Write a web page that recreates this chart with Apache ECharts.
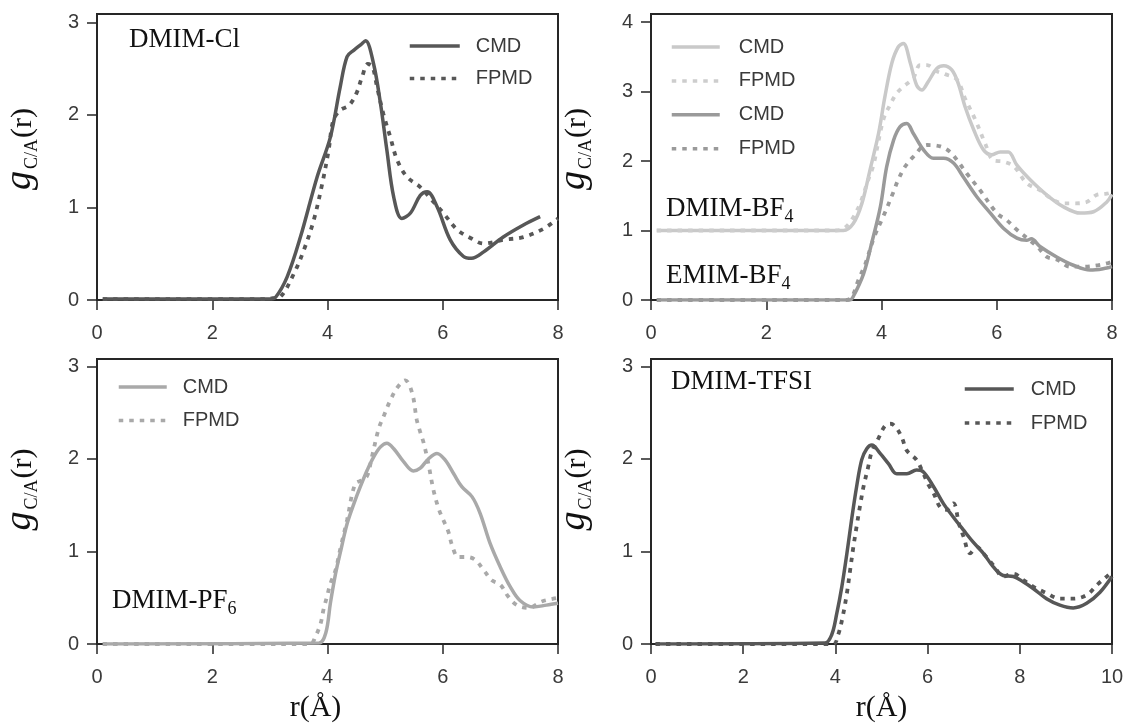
<!DOCTYPE html>
<html>
<head>
<meta charset="utf-8">
<script src="https://cdn.jsdelivr.net/npm/echarts@6/dist/echarts.min.js"></script>
<style>
html,body{margin:0;padding:0;background:#fff;}
#chart{width:1128px;height:727px;}
</style>
</head>
<body>
<div id="chart"></div>
<script>
// ---------- data ----------
const yTicks3 = [0, 1, 2, 3];
const yTicks4 = [0, 1, 2, 3, 4];
const xTicks8 = [0, 2, 4, 6, 8];
const xTicks10 = [0, 2, 4, 6, 8, 10];

// Panel 1: DMIM-Cl
const p1CmdR = [0.1, 3.0, 3.1, 3.3, 3.53, 3.82, 4.05, 4.22, 4.34, 4.46, 4.58, 4.66, 4.80, 4.92, 5.03, 5.15, 5.29, 5.44, 5.61, 5.73, 5.90, 6.13, 6.36, 6.50, 6.71, 7.05, 7.40, 7.69];
const p1CmdG = [0.01, 0.01, 0.03, 0.25, 0.68, 1.33, 1.76, 2.30, 2.63, 2.70, 2.76, 2.80, 2.55, 2.12, 1.62, 1.11, 0.88, 0.94, 1.13, 1.17, 1.01, 0.65, 0.47, 0.45, 0.52, 0.68, 0.81, 0.90];
const p1FpR = [0.1, 2.95, 3.05, 3.19, 3.42, 3.59, 3.76, 3.91, 4.02, 4.10, 4.22, 4.37, 4.50, 4.60, 4.70, 4.78, 4.86, 4.97, 5.09, 5.21, 5.38, 5.61, 5.81, 6.01, 6.25, 6.48, 6.71, 7.05, 7.40, 7.75, 8.0];
const p1FpG = [0.01, 0.01, 0.02, 0.04, 0.29, 0.54, 0.86, 1.26, 1.62, 1.94, 2.05, 2.10, 2.23, 2.41, 2.55, 2.52, 2.30, 2.01, 1.76, 1.51, 1.33, 1.22, 1.08, 0.94, 0.76, 0.67, 0.61, 0.65, 0.68, 0.77, 0.88];

// Panel 2: DMIM-BF4 (shifted by +1) and EMIM-BF4
const p2DCmdR = [0.1, 3.34, 3.51, 3.66, 3.80, 3.95, 4.06, 4.18, 4.29, 4.38, 4.50, 4.61, 4.70, 4.81, 4.96, 5.08, 5.22, 5.33, 5.45, 5.60, 5.77, 5.91, 6.06, 6.20, 6.35, 6.58, 6.87, 7.16, 7.45, 7.68, 7.91, 8.0];
const p2DCmdG = [1.0, 1.0, 1.10, 1.39, 1.87, 2.40, 2.93, 3.41, 3.64, 3.69, 3.41, 3.09, 3.02, 3.14, 3.33, 3.37, 3.31, 3.12, 2.78, 2.45, 2.16, 2.09, 2.13, 2.13, 1.94, 1.73, 1.51, 1.34, 1.25, 1.27, 1.41, 1.52];
const p2DFpR = [0.1, 3.2, 3.35, 3.48, 3.63, 3.77, 3.86, 4.03, 4.15, 4.26, 4.38, 4.55, 4.67, 4.79, 4.96, 5.10, 5.31, 5.45, 5.63, 5.80, 5.94, 6.12, 6.30, 6.52, 6.75, 6.98, 7.16, 7.33, 7.56, 7.73, 7.91, 8.0];
const p2DFpG = [1.0, 1.0, 1.03, 1.15, 1.39, 1.73, 1.94, 2.59, 2.81, 2.97, 3.07, 3.19, 3.38, 3.38, 3.29, 3.25, 3.17, 2.90, 2.59, 2.25, 2.01, 1.99, 1.92, 1.68, 1.58, 1.44, 1.39, 1.39, 1.41, 1.51, 1.53, 1.55];
const p2ECmdR = [0.1, 3.45, 3.51, 3.69, 3.83, 3.98, 4.09, 4.21, 4.32, 4.44, 4.55, 4.73, 4.90, 5.08, 5.25, 5.42, 5.65, 5.89, 6.12, 6.35, 6.52, 6.60, 6.75, 7.04, 7.33, 7.62, 7.91, 8.0];
const p2ECmdG = [0.0, 0.0, 0.05, 0.38, 0.82, 1.34, 1.92, 2.30, 2.49, 2.54, 2.40, 2.16, 2.04, 2.04, 1.97, 1.77, 1.49, 1.25, 1.03, 0.89, 0.86, 0.88, 0.77, 0.62, 0.50, 0.43, 0.46, 0.48];
const p2EFpR = [0.1, 3.4, 3.49, 3.60, 3.72, 3.87, 4.03, 4.21, 4.29, 4.41, 4.55, 4.79, 5.02, 5.19, 5.33, 5.48, 5.71, 6.00, 6.17, 6.35, 6.70, 6.87, 7.05, 7.27, 7.50, 7.76, 7.93, 8.0];
const p2EFpG = [0.0, 0.0, 0.05, 0.29, 0.52, 0.90, 1.20, 1.56, 1.73, 1.92, 2.06, 2.23, 2.21, 2.13, 1.99, 1.82, 1.58, 1.25, 1.15, 1.01, 0.77, 0.62, 0.58, 0.48, 0.48, 0.50, 0.53, 0.55];

// Panel 3: DMIM-PF6
const p3CmdR = [0.1, 3.85, 3.97, 4.05, 4.14, 4.23, 4.34, 4.46, 4.57, 4.69, 4.80, 4.92, 5.03, 5.15, 5.32, 5.49, 5.61, 5.75, 5.90, 6.04, 6.19, 6.33, 6.51, 6.65, 6.82, 7.00, 7.17, 7.34, 7.57, 7.80, 8.0];
const p3CmdG = [0.0, 0.01, 0.12, 0.44, 0.76, 1.01, 1.30, 1.52, 1.70, 1.88, 2.02, 2.13, 2.17, 2.11, 1.97, 1.87, 1.90, 2.00, 2.06, 1.99, 1.84, 1.70, 1.59, 1.41, 1.09, 0.83, 0.62, 0.47, 0.40, 0.42, 0.44];
const p3FpR = [0.1, 3.7, 3.79, 3.88, 3.93, 3.99, 4.05, 4.14, 4.23, 4.34, 4.48, 4.60, 4.69, 4.77, 4.89, 4.98, 5.08, 5.21, 5.35, 5.47, 5.55, 5.61, 5.67, 5.75, 5.84, 5.93, 6.01, 6.10, 6.16, 6.27, 6.42, 6.56, 6.71, 6.85, 7.00, 7.14, 7.29, 7.49, 7.72, 7.92, 8.0];
const p3FpG = [0.0, 0.0, 0.08, 0.22, 0.37, 0.51, 0.65, 0.80, 1.05, 1.34, 1.73, 1.77, 1.82, 2.02, 2.33, 2.47, 2.62, 2.77, 2.85, 2.71, 2.42, 2.29, 2.17, 1.95, 1.66, 1.46, 1.34, 1.21, 1.07, 0.94, 0.94, 0.91, 0.80, 0.69, 0.64, 0.51, 0.42, 0.39, 0.46, 0.49, 0.50];

// Panel 4: DMIM-TFSI
const p4CmdR = [0.1, 3.77, 3.92, 4.03, 4.14, 4.25, 4.35, 4.46, 4.57, 4.68, 4.79, 4.97, 5.15, 5.33, 5.55, 5.76, 5.91, 6.13, 6.34, 6.56, 6.78, 6.99, 7.21, 7.43, 7.64, 7.86, 8.08, 8.29, 8.58, 8.87, 9.16, 9.45, 9.74, 10.0];
const p4CmdG = [0.0, 0.01, 0.10, 0.33, 0.62, 0.98, 1.34, 1.70, 1.99, 2.11, 2.15, 2.06, 1.95, 1.84, 1.84, 1.88, 1.86, 1.70, 1.52, 1.37, 1.23, 1.10, 0.98, 0.83, 0.74, 0.73, 0.67, 0.60, 0.49, 0.42, 0.39, 0.44, 0.56, 0.73];
const p4FpR = [0.1, 3.95, 4.06, 4.16, 4.25, 4.32, 4.39, 4.46, 4.53, 4.61, 4.71, 4.79, 4.93, 5.08, 5.20, 5.33, 5.45, 5.55, 5.76, 5.91, 6.02, 6.13, 6.27, 6.41, 6.56, 6.68, 6.78, 6.92, 7.07, 7.21, 7.43, 7.64, 7.86, 8.08, 8.29, 8.58, 8.87, 9.16, 9.45, 9.70, 9.95, 10.0];
const p4FpG = [0.0, 0.0, 0.10, 0.30, 0.55, 0.80, 1.05, 1.27, 1.48, 1.70, 1.91, 2.08, 2.22, 2.36, 2.38, 2.33, 2.22, 2.09, 1.99, 1.84, 1.72, 1.63, 1.48, 1.45, 1.52, 1.30, 1.16, 0.98, 1.05, 0.98, 0.85, 0.73, 0.76, 0.69, 0.62, 0.55, 0.49, 0.49, 0.53, 0.65, 0.76, 0.80];

// ---------- styling ----------
const SANS = 'Liberation Sans, Arial, sans-serif';
const SERIF = 'Liberation Serif, Times New Roman, serif';
const AX = '#262626';
const LBL = '#3a3a3a';

const gridsPos = [
  {left: 96, right: 570, top: 14, bottom: 427},
  {left: 651, right: 16, top: 14, bottom: 427},
  {left: 96, right: 570, top: 359, bottom: 83},
  {left: 651, right: 16, top: 359, bottom: 83}
];
const yMax = [3.09, 4.115, 3.08, 3.08];
const xMax = [8, 8, 8, 10];
const yTickSets = [yTicks3, yTicks4, yTicks3, yTicks3];

const grid = gridsPos.map(g => Object.assign({show: true, borderColor: AX, borderWidth: 2, backgroundColor: '#fff'}, g));

const xAxis = gridsPos.map((g, i) => ({
  type: 'value', gridIndex: i, min: 0, max: xMax[i], interval: 2,
  axisLine: {show: true, lineStyle: {color: AX, width: 2}},
  axisTick: {show: true, length: 10, lineStyle: {color: AX, width: 1.5}},
  axisLabel: {show: true, margin: 23, color: LBL, fontSize: 20, fontFamily: SANS},
  splitLine: {show: false},
  name: i >= 2 ? 'r(Å)' : '',
  nameLocation: 'middle',
  nameGap: 49,
  nameTextStyle: {fontFamily: SERIF, fontSize: 30, color: '#111', padding: i === 2 ? [0, 24, 0, 0] : [0, 0, 0, 0]}
}));

const yRich = {
  g: {fontFamily: SERIF, fontStyle: 'italic', fontSize: 38, lineHeight: 38, verticalAlign: 'top', color: '#111'},
  s: {fontFamily: SERIF, fontSize: 18, lineHeight: 18, padding: [22.7, 1, 0, 2], verticalAlign: 'top', color: '#111'},
  r: {fontFamily: SERIF, fontSize: 30, lineHeight: 30, padding: [6.7, 0, 0, 0], verticalAlign: 'top', color: '#111'}
};

const yAxis = gridsPos.map((g, i) => ({
  type: 'value', gridIndex: i, min: 0, max: yMax[i],
  axisLine: {show: true, lineStyle: {color: AX, width: 2}},
  axisTick: {show: true, length: 10, lineStyle: {color: AX, width: 1.5}, customValues: yTickSets[i]},
  axisLabel: {show: true, margin: 18, color: LBL, fontSize: 20, fontFamily: SANS, customValues: yTickSets[i]},
  splitLine: {show: false},
  name: '{g|g}{s|C/A}{r|(r)}',
  nameLocation: 'middle',
  nameRotate: 90,
  nameGap: 58,
  nameTextStyle: {rich: yRich, padding: i < 2 ? [0, 0, 0, 16] : [0, 0, 0, 24]}
}));

function zip(r, g) { return r.map((v, k) => [v, g[k]]); }
function mk(name, r, g, idx, color, dotted, z) {
  return {
    type: 'line', name: name, xAxisIndex: idx, yAxisIndex: idx,
    data: zip(r, g), symbol: 'none', smooth: 0.35, z: z || 2,
    lineStyle: {color: color, width: dotted ? 3.8 : 3.5, type: dotted ? [4.5, 6] : 'solid', cap: 'butt'},
    itemStyle: {color: color}
  };
}

const C1 = '#575757', C2L = '#c9c9c9', C2LF = '#cdcdcd', C2D = '#9a9a9a', C3 = '#a9a9a9', C4 = '#575757';

const series = [
  mk('CMD#1', p1CmdR, p1CmdG, 0, C1, false, 3),
  mk('FPMD#1', p1FpR, p1FpG, 0, C1, true, 2),
  mk('CMD#2a', p2DCmdR, p2DCmdG, 1, C2L, false, 2),
  mk('FPMD#2a', p2DFpR, p2DFpG, 1, C2LF, true, 2),
  mk('CMD#2b', p2ECmdR, p2ECmdG, 1, C2D, false, 3),
  mk('FPMD#2b', p2EFpR, p2EFpG, 1, C2D, true, 3),
  mk('CMD#3', p3CmdR, p3CmdG, 2, C3, false, 3),
  mk('FPMD#3', p3FpR, p3FpG, 2, C3, true, 2),
  mk('CMD#4', p4CmdR, p4CmdG, 3, C4, false, 3),
  mk('FPMD#4', p4FpR, p4FpG, 3, C4, true, 2)
];

function legendAt(data, left, top, itemWidth, gap, textPad) {
  return {
    data: data, left: left, top: top, orient: 'vertical', padding: 0,
    itemWidth: itemWidth, itemHeight: 14, itemGap: gap,
    selectedMode: false,
    formatter: n => n.split('#')[0],
    itemStyle: {opacity: 0, borderWidth: 0},
    lineStyle: {width: 3.5},
    textStyle: {fontFamily: SANS, fontSize: 20, color: LBL, padding: [0, 0, 0, textPad]}
  };
}

const legend = [
  legendAt(['CMD#1', 'FPMD#1'], 408, 36, 50, 12.6, 11),
  legendAt(['CMD#2a', 'FPMD#2a', 'CMD#2b', 'FPMD#2b'], 670, 37, 48, 13.9, 14),
  legendAt(['CMD#3', 'FPMD#3'], 117, 377, 48, 13.6, 11),
  legendAt(['CMD#4', 'FPMD#4'], 963, 379, 49, 14, 12)
];

const labRich = {
  a: {fontFamily: SERIF, fontSize: 27, lineHeight: 27, verticalAlign: 'top', color: '#111'},
  s: {fontFamily: SERIF, fontSize: 18, lineHeight: 18, padding: [13.5, 0, 0, 0], verticalAlign: 'top', color: '#111'}
};
function label(text, left, top) {
  return {text: text, left: left, top: top, padding: 0, textStyle: {rich: labRich, fontWeight: 'normal'}};
}
const title = [
  label('{a|DMIM-Cl}', 129, 26),
  label('{a|DMIM-BF}{s|4}', 666, 195),
  label('{a|EMIM-BF}{s|4}', 666, 262),
  label('{a|DMIM-PF}{s|6}', 112, 587),
  label('{a|DMIM-TFSI}', 671, 368)
];

const chart = echarts.init(document.getElementById('chart'), null, {renderer: 'canvas'});
chart.setOption({
  animation: false,
  backgroundColor: '#fff',
  title: title,
  legend: legend,
  grid: grid,
  xAxis: xAxis,
  yAxis: yAxis,
  series: series
});
</script>
</body>
</html>
